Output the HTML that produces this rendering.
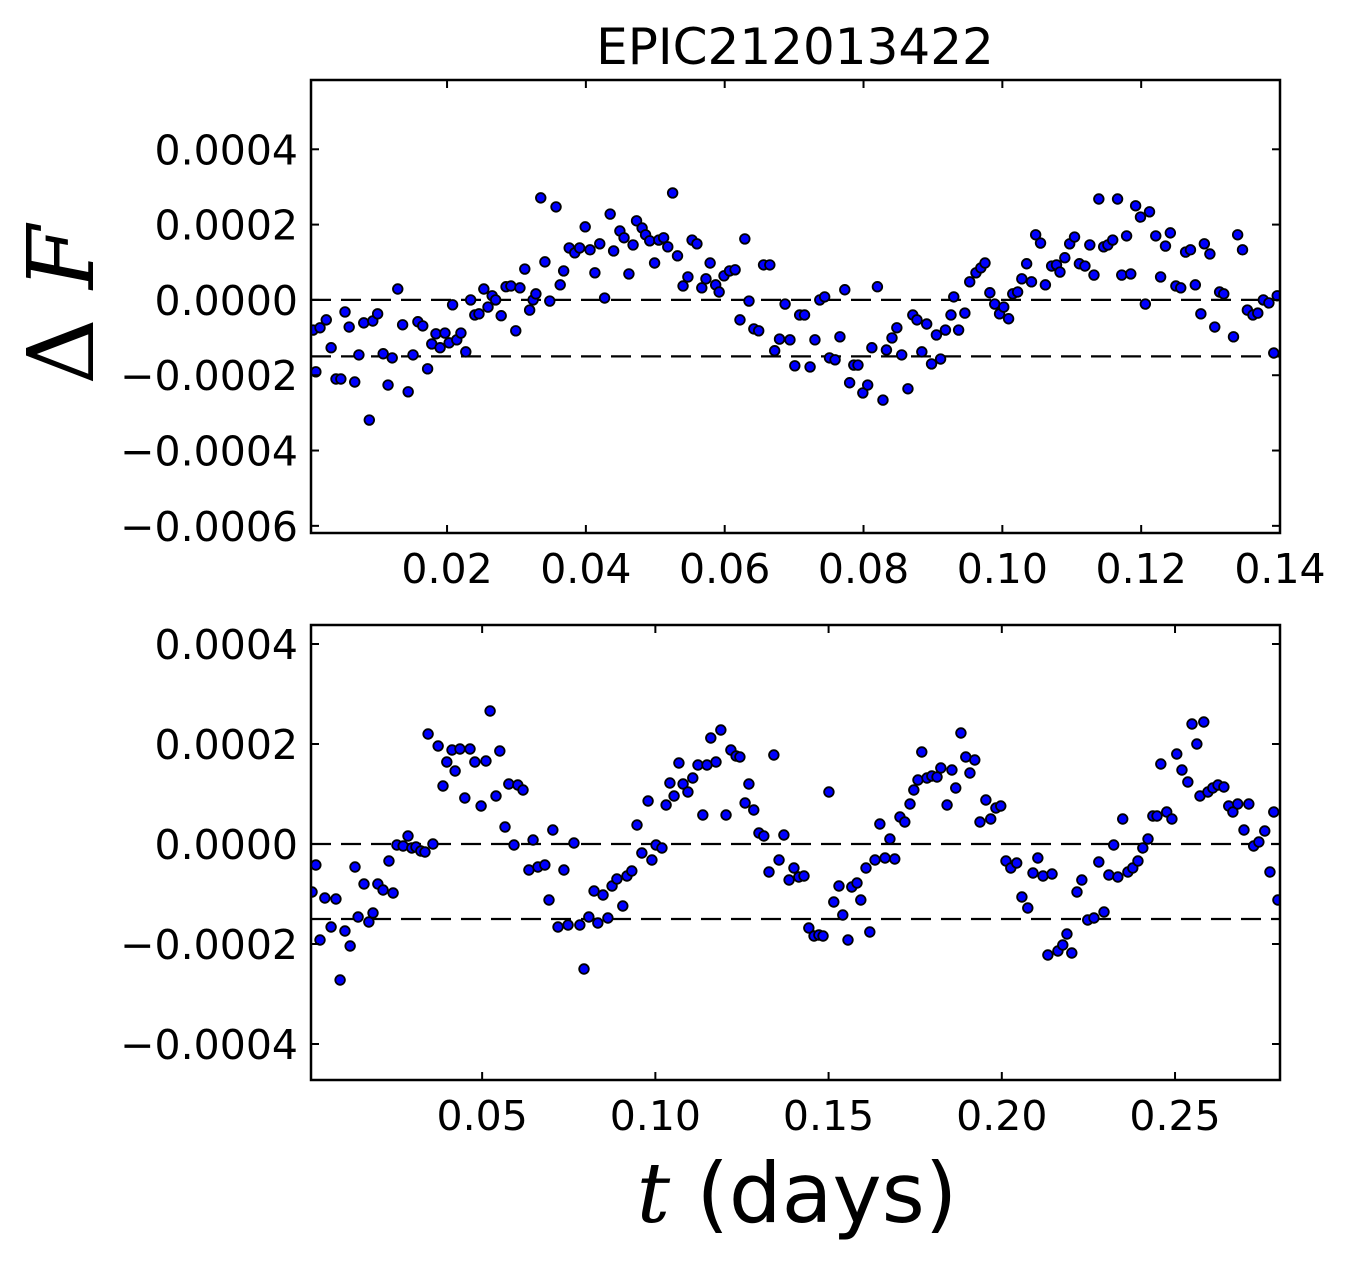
<!DOCTYPE html>
<html><head><meta charset="utf-8"><style>
html,body{margin:0;padding:0;background:#fff;}
svg{display:block;}
</style></head><body>
<svg id="chart" width="1346" height="1263" viewBox="0 0 1346 1263" xmlns="http://www.w3.org/2000/svg">
<rect x="0" y="0" width="1346" height="1263" fill="#fff"/>
<text x="795" y="64" font-family="DejaVu Sans, Liberation Sans, sans-serif" font-size="50" text-anchor="middle">EPIC212013422</text>
<text transform="translate(93,305) rotate(-90)" font-family="DejaVu Serif, Liberation Serif, serif" font-size="92" text-anchor="middle">Δ <tspan font-style="italic">F</tspan></text>
<text x="797" y="1222" font-family="DejaVu Sans, Liberation Sans, sans-serif" font-size="83" text-anchor="middle"><tspan font-family="DejaVu Serif, Liberation Serif, serif" font-style="italic">t</tspan> (days)</text>
<g id="g1"></g>
<g id="g2"></g>
</svg>
<script>
// Top panel data: time (1e-4 days) and ΔF (1e-6)
const topT = [7,11,17,26,33,40,47,53,59,67,73,80,88,93,100,108,115,121,129,136,144,151,158,165,172,178,184,190,197,203,208,214,220,227,234,240,246,253,259,265,270,278,285,292,299,305,312,319,324,328,335,341,348,357,363,368,376,384,391,399,406,413,420,427,435,440,449,455,462,468,473,481,486,492,499,505,512,518,525,532,540,547,553,560,567,573,579,587,592,599,607,615,622,629,635,642,649,656,665,672,679,687,694,701,708,715,723,730,737,744,751,759,766,773,780,786,792,799,806,812,820,828,833,841,848,855,864,871,877,884,891,898,905,911,918,926,930,937,946,953,962,969,975,982,989,996,1002,1009,1015,1022,1028,1035,1042,1048,1055,1062,1071,1078,1083,1090,1097,1104,1111,1119,1126,1132,1139,1146,1152,1159,1166,1172,1179,1185,1192,1199,1206,1212,1221,1228,1235,1242,1250,1257,1264,1271,1278,1286,1291,1299,1306,1313,1319,1333,1339,1346,1353,1361,1368,1376,1384,1391,1396];
const topF = [-80,-191,-74,-53,-127,-210,-210,-32,-72,-218,-146,-61,-319,-56,-37,-143,-226,-154,29,-66,-244,-146,-58,-69,-183,-117,-90,-127,-88,-114,-13,-106,-88,-138,0,-40,-37,29,-19,11,0,-42,35,37,-82,32,82,-27,0,16,271,101,-3,247,40,77,138,125,138,194,133,72,149,5,228,130,183,165,69,146,210,191,173,157,98,159,165,141,284,117,37,61,159,149,32,56,98,40,21,64,77,80,-53,162,-3,-77,-82,93,93,-135,-104,-11,-106,-175,-40,-40,-178,-106,0,8,-154,-159,-98,27,-220,-173,-173,-247,-226,-127,35,-266,-133,-101,-74,-146,-236,-40,-53,-138,-64,-170,-93,-157,-80,-40,8,-80,-35,48,72,85,98,19,-11,-37,-19,-50,16,21,56,96,48,173,151,40,90,93,74,112,149,167,96,90,146,66,268,141,146,159,268,66,170,69,250,220,-11,234,170,61,143,178,37,32,127,133,40,-37,149,122,-72,21,16,-98,173,133,-27,-40,-35,0,-8,-141,11];
// Bottom panel data
const botT = [9,20,32,46,64,78,90,104,119,133,142,159,173,185,199,214,231,243,254,272,286,297,309,323,335,344,358,373,387,398,413,422,436,450,465,479,497,511,523,540,551,566,577,592,603,618,635,647,661,681,693,704,719,736,748,765,782,794,808,823,834,849,863,875,889,906,918,932,947,961,979,990,1002,1019,1031,1042,1054,1068,1080,1094,1108,1123,1137,1149,1160,1175,1189,1204,1218,1233,1244,1259,1270,1284,1299,1313,1328,1342,1357,1371,1386,1400,1414,1429,1443,1458,1472,1484,1501,1515,1530,1541,1556,1567,1582,1593,1608,1619,1634,1648,1663,1677,1691,1706,1720,1735,1746,1758,1769,1784,1798,1813,1824,1842,1856,1867,1882,1896,1908,1922,1937,1954,1968,1983,1997,2012,2026,2043,2058,2075,2090,2104,2119,2133,2145,2162,2176,2188,2202,2217,2231,2248,2266,2280,2295,2309,2323,2335,2349,2364,2378,2393,2407,2422,2436,2448,2459,2476,2491,2505,2520,2537,2549,2563,2572,2583,2595,2609,2624,2641,2655,2667,2681,2699,2713,2727,2742,2759,2774,2785,2797];
const botF = [-96,-42,-192,-108,-166,-110,-272,-174,-204,-46,-146,-80,-156,-138,-80,-92,-34,-98,-2,-4,16,-8,-6,-14,-16,220,0,196,116,164,188,146,190,92,190,164,76,166,266,96,186,34,120,-2,118,108,-52,8,-46,-42,-112,28,-166,-52,-162,2,-162,-250,-146,-94,-158,-102,-148,-84,-70,-124,-64,-54,38,-18,86,-32,-2,-8,78,122,96,162,120,104,132,158,58,158,212,164,228,58,188,176,174,82,120,68,22,16,-56,178,-32,18,-72,-48,-66,-64,-168,-184,-182,-184,104,-116,-84,-142,-192,-86,-78,-112,-48,-176,-32,40,-28,10,-30,54,44,80,108,128,184,132,136,134,152,78,148,112,222,174,142,168,44,88,50,72,76,-34,-48,-38,-106,-128,-58,-28,-64,-222,-60,-214,-202,-180,-218,-96,-72,-152,-148,-36,-136,-62,-2,-66,50,-56,-48,-34,-8,10,56,56,160,64,50,180,148,124,240,200,96,244,104,112,118,114,76,64,80,28,80,-4,4,26,-56,64,-112];
const topXTicks = [0.02,0.04,0.06,0.08,0.10,0.12,0.14];
const topXLabels = ["0.02","0.04","0.06","0.08","0.10","0.12","0.14"];
const topYTicks = [0.0004,0.0002,0,-0.0002,-0.0004,-0.0006];
const topYLabels = ["0.0004","0.0002","0.0000","\u22120.0002","\u22120.0004","\u22120.0006"];
const botXTicks = [0.05,0.10,0.15,0.20,0.25];
const botXLabels = ["0.05","0.10","0.15","0.20","0.25"];
const botYTicks = [0.0004,0.0002,0,-0.0002,-0.0004];
const botYLabels = ["0.0004","0.0002","0.0000","\u22120.0002","\u22120.0004"];
const refLines = [0,-0.00015];

const NS="http://www.w3.org/2000/svg";
function mk(tag,attrs,parent){const e=document.createElementNS(NS,tag);for(const k in attrs)e.setAttribute(k,attrs[k]);parent.appendChild(e);return e;}

function panel(g,box,xd,yd,T,F,xt,xl,yt,yl,prefix){
  const sx=v=>box.x0+(v-xd[0])/(xd[1]-xd[0])*(box.x1-box.x0);
  const sy=v=>box.y1-(v-yd[0])/(yd[1]-yd[0])*(box.y1-box.y0);
  const clipId=prefix+"-clip";
  const cp=mk("clipPath",{id:clipId},g);
  mk("rect",{x:box.x0,y:box.y0,width:box.x1-box.x0,height:box.y1-box.y0},cp);
  refLines.forEach(v=>{
    const l=mk("line",{x1:box.x0,x2:box.x1,y1:sy(v),y2:sy(v),stroke:"#000","stroke-width":2.2,"stroke-dasharray":"20,10"},g);
    
    
  });
  const pts=mk("g",{"clip-path":"url(#"+clipId+")"},g);
  
  
  for(let i=0;i<T.length;i++){
    const c=mk("circle",{cx:sx(T[i]*1e-4),cy:sy(F[i]*1e-6),r:4.8,fill:"#0000ff",stroke:"#000","stroke-width":1.8},pts);
    
    
  }
  xt.forEach((v,i)=>{
    const x=sx(v);
    mk("line",{x1:x,x2:x,y1:box.y1,y2:box.y1-8,stroke:"#000","stroke-width":2},g);
    mk("line",{x1:x,x2:x,y1:box.y0,y2:box.y0+8,stroke:"#000","stroke-width":2},g);
    const t=mk("text",{x:x,y:box.y1+50,"text-anchor":"middle","font-family":"DejaVu Sans, Liberation Sans, sans-serif","font-size":41},g);
    t.textContent=xl[i];
    
    
  });
  yt.forEach((v,i)=>{
    const y=sy(v);
    mk("line",{x1:box.x0,x2:box.x0+8,y1:y,y2:y,stroke:"#000","stroke-width":2},g);
    mk("line",{x1:box.x1,x2:box.x1-8,y1:y,y2:y,stroke:"#000","stroke-width":2},g);
    const t=mk("text",{x:box.x0-13,y:y+15,"text-anchor":"end","font-family":"DejaVu Sans, Liberation Sans, sans-serif","font-size":41},g);
    t.textContent=yl[i];
    
    
  });
  const fr=mk("rect",{x:box.x0,y:box.y0,width:box.x1-box.x0,height:box.y1-box.y0,fill:"none",stroke:"#000","stroke-width":2.5},g);
  
  
}
panel(document.getElementById("g1"),{x0:311,x1:1280,y0:80,y1:533},[0.0004,0.14],[-0.000619,0.000584],topT,topF,topXTicks,topXLabels,topYTicks,topYLabels,"top");
panel(document.getElementById("g2"),{x0:311,x1:1280,y0:625,y1:1080},[0.0006,0.2803],[-0.000472,0.000438],botT,botF,botXTicks,botXLabels,botYTicks,botYLabels,"bottom");
</script>
</body></html>
